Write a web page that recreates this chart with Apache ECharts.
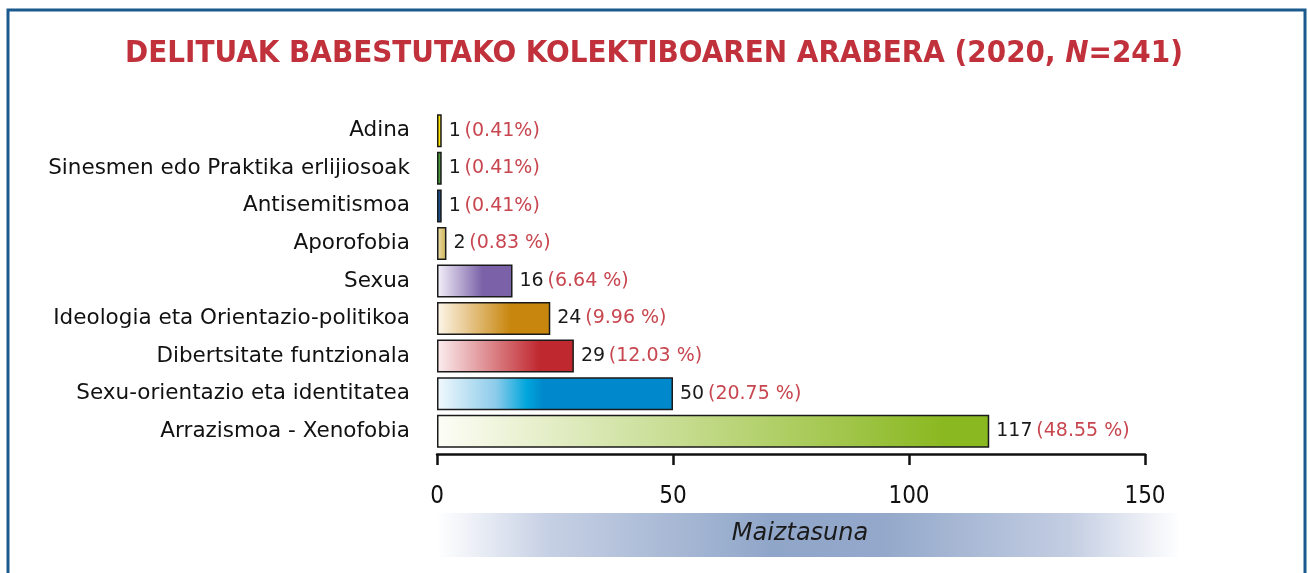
<!DOCTYPE html>
<html lang="eu">
<head>
    <meta charset="UTF-8">
    <title>Delituak babestutako kolektiboaren arabera</title>
    <script src="https://cdn.jsdelivr.net/npm/echarts@6/dist/echarts.min.js"></script>
    <style>
        html, body { margin: 0; padding: 0; background: #fff; }
        #chart { width: 1308px; height: 573px; }
    </style>
</head>
<body>
    <div id="chart"></div>
    <script>
        // datuak
        var categories = [
            'Adina',
            'Sinesmen edo Praktika erlijiosoak',
            'Antisemitismoa',
            'Aporofobia',
            'Sexua',
            'Ideologia eta Orientazio-politikoa',
            'Dibertsitate funtzionala',
            'Sexu-orientazio eta identitatea',
            'Arrazismoa - Xenofobia'
        ];
        var counts = [1, 1, 1, 2, 16, 24, 29, 50, 117];
        var percents = ['0.41%', '0.41%', '0.41%', '0.83 %', '6.64 %', '9.96 %', '12.03 %', '20.75 %', '48.55 %'];
        var xTicks = [0, 50, 100, 150];

        // bar colours (start tint, full colour)
        var barColors = [
            ['#ffe600', '#ffe600'],
            ['#4f9e3e', '#4a9a3a'],
            ['#1b4f8a', '#1b4f8a'],
            ['#efe2b0', '#d6bf6c'],
            ['#f4f1fa', '#7b62a8'],
            ['#fdf6ea', '#c8860e'],
            ['#fbeef0', '#c0282f'],
            ['#f2f9fd', '#0088cc'],
            ['#fdfdf6', '#8ab820']
        ];
        var fullAt = [0.5, 0.5, 0.5, 0.7, 0.6, 0.65, 0.75, 0.45, 0.92];

        var chart = echarts.init(document.getElementById('chart'));
        var font = '"DejaVu Sans", sans-serif';

        var barData = counts.map(function (v, i) {
            var stops = [
                { offset: 0, color: barColors[i][0] },
                { offset: fullAt[i], color: barColors[i][1] },
                { offset: 1, color: barColors[i][1] }
            ];
            if (i === 7) {
                stops.splice(1, 0, { offset: 0.25, color: '#8ccbea' }, { offset: 0.38, color: '#00a6dc' });
            }
            return {
                value: v,
                itemStyle: { color: new echarts.graphic.LinearGradient(0, 0, 1, 0, stops) }
            };
        });

        chart.setOption({
            animation: false,
            title: {
                text: '{t|DELITUAK BABESTUTAKO KOLEKTIBOAREN ARABERA (2020, }{i|N}{t|=241)}',
                left: 'center',
                top: 33,
                textStyle: {
                    rich: {
                        t: { fontFamily: '"DejaVu Sans Condensed", "DejaVu Sans", sans-serif', fontWeight: 'bold', fontSize: 31, color: '#c1313b' },
                        i: { fontFamily: '"DejaVu Sans Condensed", "DejaVu Sans", sans-serif', fontWeight: 'bold', fontStyle: 'italic', fontSize: 31, color: '#c1313b' }
                    }
                }
            },
            graphic: [
                {
                    type: 'rect',
                    shape: { x: 8, y: 10, width: 1297, height: 620 },
                    style: { fill: 'none', stroke: '#1b5a8e', lineWidth: 3 },
                    z: 10
                },
                {
                    type: 'rect',
                    shape: { x: 437, y: 513, width: 743, height: 44 },
                    style: {
                        fill: new echarts.graphic.LinearGradient(0, 0, 1, 0, [
                            { offset: 0, color: 'rgba(255,255,255,1)' },
                            { offset: 0.15, color: '#c6d0e4' },
                            { offset: 0.45, color: '#90a6c9' },
                            { offset: 0.6, color: '#93a8ca' },
                            { offset: 0.85, color: '#c3cde2' },
                            { offset: 1, color: 'rgba(255,255,255,1)' }
                        ])
                    },
                    z: 0
                }
            ],
            grid: {
                left: 437,
                right: 163,
                top: 112,
                height: 338
            },
            xAxis: {
                type: 'value',
                min: 0,
                max: 150,
                interval: 50,
                offset: 4,
                splitLine: { show: false },
                axisLine: { show: true, lineStyle: { color: '#111', width: 2.5 } },
                axisTick: { show: true, length: 11, lineStyle: { color: '#111', width: 2.5 } },
                axisLabel: {
                    margin: 31,
                    fontFamily: '"DejaVu Sans Condensed", "Liberation Sans Narrow", sans-serif',
                    fontSize: 24,
                    color: '#111',
                    customValues: xTicks
                },
                name: 'Maiztasuna',
                nameLocation: 'middle',
                nameGap: 80,
                nameTextStyle: {
                    fontFamily: font,
                    fontStyle: 'italic',
                    fontSize: 24,
                    color: '#1a1a1a',
                    verticalAlign: 'middle',
                    padding: [0, 0, 0, 18]
                }
            },
            yAxis: {
                type: 'category',
                data: categories,
                inverse: true,
                axisLine: { show: false },
                axisTick: { show: false },
                axisLabel: {
                    margin: 27,
                    fontFamily: font,
                    fontSize: 21.5,
                    color: '#111',
                    padding: [4, 0, 0, 0]
                }
            },
            series: [{
                type: 'bar',
                data: barData,
                barWidth: 33,
                itemStyle: { borderColor: '#1a1a1a', borderWidth: 1.5 },
                label: {
                    show: true,
                    position: 'right',
                    distance: 7,
                    fontFamily: font,
                    formatter: function (p) {
                        return '{n|' + counts[p.dataIndex] + '} {p|(' + percents[p.dataIndex] + ')}';
                    },
                    rich: {
                        n: { fontFamily: font, fontSize: 19, color: '#1a1a1a' },
                        p: { fontFamily: font, fontSize: 19, color: '#c8464f' }
                    }
                }
            }]
        });
    </script>
</body>
</html>
